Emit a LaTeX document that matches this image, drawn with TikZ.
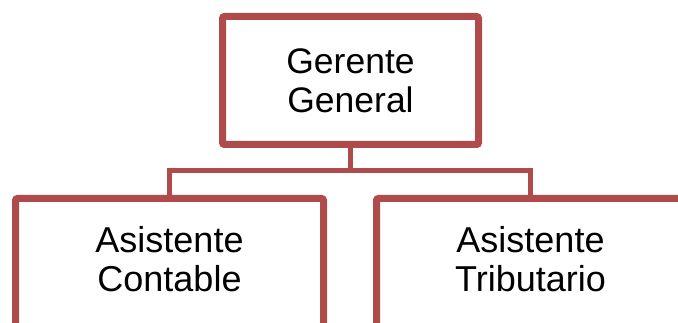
\documentclass[tikz,border=0pt]{standalone}
\usepackage{fontspec}
\setmainfont{Liberation Sans}
\usetikzlibrary{shadows,calc}
\definecolor{boxred}{RGB}{176,75,75}
\tikzset{
  orgbox/.style={draw=boxred, line width=7pt, fill=white, rounded corners=2pt,
    minimum width=308pt, minimum height=140pt, inner sep=0pt,
    drop shadow={opacity=0.35, shadow xshift=1.5pt, shadow yshift=-2.5pt}},
  orgtext/.style={align=center, inner sep=0pt, font=\fontsize{36}{39}\selectfont},
  link/.style={draw=boxred, line width=5pt}
}
\begin{document}
\begin{tikzpicture}[x=1pt,y=-1pt]
\useasboundingbox (0,0) rectangle (678,323);
\node[orgbox, minimum width=256pt, minimum height=128pt, orgtext,
  font=\fontsize{35.5}{39}\selectfont] (gg) at (350.5,80.5) {Gerente\\General};
\node[orgbox] (ac) at (169.5,268.5) {};
\node[orgbox] (at) at (530.5,268.5) {};
\node[orgtext] (actext) at ($(ac.north)+(0,64.5)$) {Asistente\\Contable};
\node[orgtext] (attext) at ($(at.north)+(0,64.5)$) {Asistente\\Tributario};
\draw[link] (gg.south) -- ++(0,23) coordinate (hub);
\draw[link] (hub) -| (ac.north);
\draw[link] (hub) -| (at.north);
\end{tikzpicture}
\end{document}
